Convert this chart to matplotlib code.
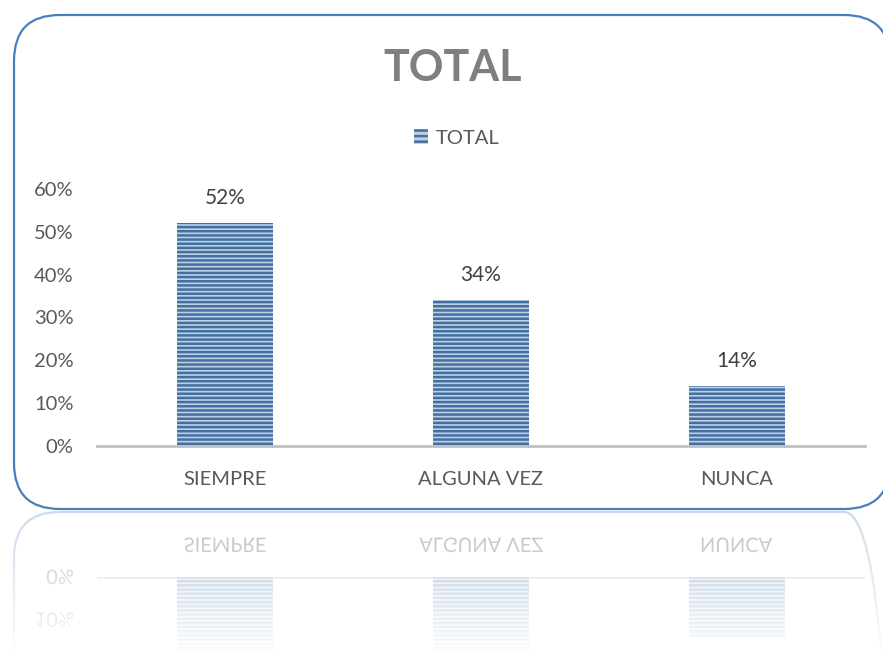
import numpy as np
import matplotlib
matplotlib.use("Agg")
import matplotlib.pyplot as plt
from matplotlib.patches import FancyBboxPatch, PathPatch, Patch
from matplotlib.textpath import TextPath
from matplotlib.font_manager import FontProperties
from matplotlib.transforms import Affine2D, IdentityTransform

# data
categories = ["SIEMPRE", "ALGUNA VEZ", "NUNCA"]
values = [0.52, 0.34, 0.14]
yticks = [0.0, 0.1, 0.2, 0.3, 0.4, 0.5, 0.6]
title = "TOTAL"
series_name = "TOTAL"

FONT = "Lato"
plt.rcParams["font.family"] = [FONT, "DejaVu Sans"]
plt.rcParams["hatch.linewidth"] = 1.8

W, H, DPI = 883, 652, 100
fig = plt.figure(figsize=(W / DPI, H / DPI), dpi=DPI)

bar_face = "#bcd0e8"
bar_hatch = "#44709f"
axis_gray = "#bfbfbf"
text_gray = "#595959"

# rounded frame (pixel coords), kept behind the axes
frame = FancyBboxPatch((14, H - 509), 876, 494,
                       boxstyle="round,pad=0,rounding_size=46",
                       transform=IdentityTransform(), facecolor="white",
                       edgecolor="#4a7ebb", linewidth=1.6, zorder=-2)
fig.patches.append(frame)

x = np.arange(len(categories))

ax = fig.add_axes([97 / W, 1 - 446 / H, 768 / W, 257 / H])
ax.patch.set_alpha(0)
ax.bar(x, values, width=0.375, color=bar_face, edgecolor=bar_hatch,
       hatch="----", linewidth=0, label=series_name)
ax.set_xlim(-0.5, len(categories) - 0.5)
ax.set_ylim(0, 0.6)
ax.set_yticks(yticks)
ax.set_yticklabels([f"{int(round(v * 100))}%" for v in yticks])
ax.set_xticks(x)
ax.set_xticklabels(categories)
for s in ["top", "right", "left"]:
    ax.spines[s].set_visible(False)
ax.spines["bottom"].set_color(axis_gray)
ax.spines["bottom"].set_linewidth(2)
ax.tick_params(length=0, labelsize=14.5, colors=text_gray)
ax.tick_params(axis="y", pad=17)
ax.tick_params(axis="x", pad=18)
for xi, v in zip(x, values):
    ax.annotate(f"{int(round(v * 100))}%", (xi, v), xytext=(0, 11),
                textcoords="offset points", ha="center", va="bottom",
                fontsize=15, color="#404040")

fig.text(453 / W, 1 - 68 / H, title, ha="center", va="center",
         fontsize=31, fontweight="bold", color="#7f7f7f")

leg_handle = Patch(facecolor=bar_face, edgecolor=bar_hatch, hatch="---", linewidth=0)
fig.legend([leg_handle], [series_name], loc="center",
           bbox_to_anchor=(457 / W, 1 - 138 / H), frameon=False,
           fontsize=14.5, handlelength=0.7, handleheight=0.7,
           handletextpad=0.4, labelcolor=text_gray)

# reflection below the frame
mirror = H - 510  # pixel y (bottom-origin) of mirror line
refl_frame = FancyBboxPatch((14, mirror - 494 - 2), 876, 494,
                            boxstyle="round,pad=0,rounding_size=46",
                            transform=IdentityTransform(), facecolor="none",
                            edgecolor="#4a7ebb", linewidth=1.6, alpha=0.35, zorder=-1)
fig.patches.append(refl_frame)

rax = fig.add_axes([97 / W, 0, 768 / W, (H - 577) / H])
rax.patch.set_alpha(0)
rax.bar(x, values, width=0.375, color=bar_face, edgecolor=bar_hatch,
        hatch="----", linewidth=0, alpha=0.45)
rax.set_xlim(-0.5, len(categories) - 0.5)
rax.set_ylim((H - 577) / 257 * 0.6, 0)
rax.axis("off")
rax.axhline(0, color=axis_gray, lw=2, alpha=0.6)

fp = FontProperties(family=FONT)


def flipped_text(s, px, py, size_px, color, ha="center"):
    tp = TextPath((0, 0), s, size=size_px, prop=fp)
    bb = tp.get_extents()
    dx = -bb.x0 - bb.width / 2 if ha == "center" else -bb.x1
    tr = Affine2D().translate(dx, -bb.height / 2).scale(1, -1).translate(px, py)
    fig.patches.append(PathPatch(tr.transform_path(tp), facecolor=color,
                                 edgecolor="none", transform=IdentityTransform(),
                                 alpha=0.5))


fig.canvas.draw()
for xi, c in zip(x, categories):
    px, _ = ax.transData.transform((xi, 0))
    flipped_text(c, px, H - 545, 20, text_gray)
for v in yticks[:2]:
    _, py = rax.transData.transform((0, v))
    flipped_text(f"{int(round(v * 100))}%", 73, py, 20, text_gray, ha="right")

# fade the reflection out
fade = fig.add_axes([0, 0, 1, (H - 511) / H])
fade.axis("off")
grad = np.ones((100, 2, 4))
grad[..., 3] = np.linspace(0.97, 0.2, 100)[:, None]
fade.imshow(grad, aspect="auto", extent=(0, 1, 0, 1), origin="lower")
fade.set_zorder(10)

fig.savefig("out.png", dpi=DPI)
